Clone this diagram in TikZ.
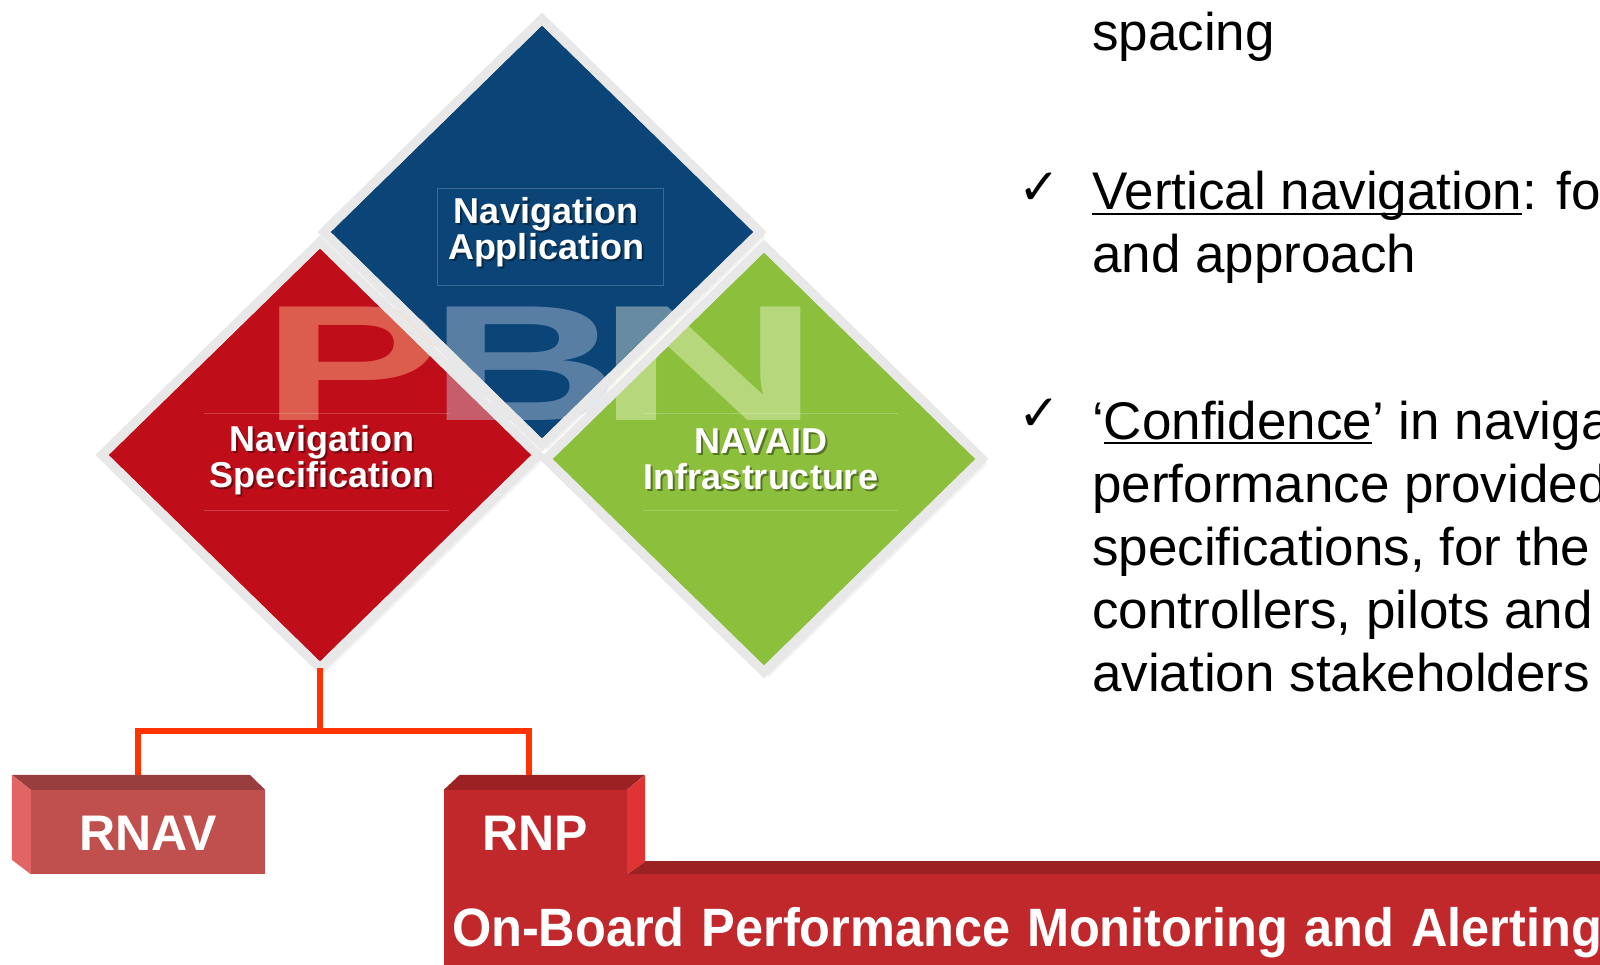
\documentclass[tikz,border=0pt]{standalone}
\usepackage{fontspec}
\setmainfont{Liberation Sans}
\newfontfamily\symbolsans{DejaVu Sans}
\usepackage{tikz}
\usetikzlibrary{positioning, shapes.geometric, shadows, calc}

\definecolor{appblue}{RGB}{11,69,119}
\definecolor{specred}{RGB}{192,13,26}
\definecolor{infragreen}{RGB}{140,192,60}
\definecolor{rimgray}{RGB}{232,232,232}
\definecolor{linkred}{RGB}{255,51,0}
\definecolor{rnavfront}{RGB}{192,80,78}
\definecolor{rnavtop}{RGB}{152,62,62}
\definecolor{rnavside}{RGB}{226,100,100}
\definecolor{rnpfront}{RGB}{192,40,44}
\definecolor{rnptop}{RGB}{155,33,35}
\definecolor{rnpside}{RGB}{224,52,52}
\definecolor{wmP}{RGB}{255,190,140}
\definecolor{wmB}{RGB}{205,215,230}
\definecolor{wmN}{RGB}{255,255,230}

\newsavebox\ulinebox
\newcommand\undl[1]{\sbox\ulinebox{#1}\rlap{\rule[-0.1em]{\wd\ulinebox}{0.05em}}\usebox\ulinebox}

\begin{document}
\begin{tikzpicture}[
  x=1pt, y=-1pt,
  tile/.style={diamond, draw=rimgray, line width=9pt, inner sep=0pt, outer sep=0pt, minimum width=436pt, minimum height=426pt, drop shadow={shadow xshift=5pt, shadow yshift=-5pt, opacity=0.1}},
  rim/.style={draw=rimgray, line width=9pt},
  tiletext/.style={text=white, align=center, inner sep=0pt, font=\fontsize{36}{36}\selectfont\bfseries},
  tileshade/.style={tiletext, text=black, text opacity=0.4},
  frameline/.style={white, opacity=0.2, line width=1pt},
  watermark/.style={inner sep=0pt, font=\fontsize{165}{165}\selectfont\bfseries},
  link/.style={draw=linkred, line width=6pt},
  boxlabel/.style={text=white, inner sep=0pt, text height=36pt, text depth=0pt, font=\fontsize{50}{50}\selectfont\bfseries},
  bodytext/.style={anchor=base west, inner sep=0pt, align=left, font=\fontsize{53}{63}\selectfont},
  tick/.style={anchor=base west, inner sep=0pt, font=\symbolsans\bfseries\fontsize{50}{50}\selectfont}
]
\clip (0,0) rectangle (1600,965);
\fill[white] (0,0) rectangle (1600,965);

\node[tile, fill=appblue] (app) at (542,232) {};
\node[tile, fill=specred] (spec) at (320,455) {};
\node[tile, fill=infragreen] (infra) at (764,459) {};

\node[watermark, text=wmP, text opacity=0.45] (wmp) at (352,364) {\scalebox{1.65}[1]{P}};
\node[watermark, text=wmB, text opacity=0.4] (wmb) at (525,364) {\scalebox{1.6}[1]{B}};
\node[watermark, text=wmN, text opacity=0.38] (wmn) at (709,364) {\scalebox{1.9}[1]{N}};

\foreach \t in {app,spec,infra}
  \draw[rim] (\t.north) -- (\t.east) -- (\t.south) -- (\t.west) -- cycle;

\draw[frameline] (437,189) rectangle (663,286);
\draw[frameline] (204,413) -- (449,413) (204,510) -- (449,510);
\draw[frameline] (643,413) -- (898,413) (643,510) -- (898,510);

\node[tileshade] (appshade) at ([xshift=6pt,yshift=-2pt]app.center) {Navigation\\Application};
\node[tiletext] (apptext) at ([xshift=4pt]app.center) {Navigation\\Application};
\node[tileshade] (specshade) at ([xshift=4pt,yshift=-7pt]spec.center) {Navigation\\Specification};
\node[tiletext] (spectext) at ([xshift=2pt,yshift=-5pt]spec.center) {Navigation\\Specification};
\node[tileshade] (infrashade) at ([xshift=-1pt,yshift=-2pt]infra.center) {NAVAID\\Infrastructure};
\node[tiletext] (infratext) at ([xshift=-3pt]infra.center) {NAVAID\\Infrastructure};

\node[boxlabel, fill=rnavfront, minimum width=234pt, minimum height=84pt] (rnav) at (148,832) {RNAV};
\fill[rnavtop] (rnav.north west) -- ++(-19,-15) -- ++(238,0) -- (rnav.north east) -- cycle;
\fill[rnavside] (rnav.north west) -- ++(-19,-15) -- ++(0,85) -- (rnav.south west) -- cycle;

\node[boxlabel, fill=rnpfront, minimum width=183pt, minimum height=84pt] (rnp) at (535.5,832) {RNP};
\node[fill=rnpfront, anchor=north west, inner xsep=8pt, inner ysep=0pt, text width=1150pt, align=left, minimum height=92pt, text height=52pt, text depth=0pt, text=white, font=\bfseries\fontsize{54}{54}\selectfont] (obpm) at (rnp.south west) {\scalebox{0.935}[1]{On-Board Performance Monitoring and Alerting}};
\fill[rnptop] (rnp.south east) -- ++(18,-13) -- ++(1000,0) -- (obpm.north east) -- cycle;
\fill[rnptop] (rnp.north west) -- ++(16,-15) -- ++(185,0) -- (rnp.north east) -- cycle;
\fill[rnpside] (rnp.north east) -- ++(18,-15) -- ++(0,87) -- (rnp.south east) -- cycle;

\coordinate (fork) at (spec.south |- 0,731);
\draw[link] (spec.south) -- (fork);
\draw[link] ([xshift=-10pt,yshift=15pt]rnav.north) |- (fork) -| ([xshift=-7pt,yshift=15pt]rnp.north);

\node[bodytext] (spacing) at (1092,51) {spacing};
\node[tick] (chk1) at (1018,205) {✓};
\node[bodytext] (vnav) at (1092,273) {\undl{Vertical navigation}: for\\and approach};
\node[tick] (chk2) at (1018,430) {✓};
\node[bodytext] (conf) at (1092,691) {`\undl{Confidence}' in navigation\\performance provided\\specifications, for the\\controllers, pilots and\\aviation stakeholders};
\end{tikzpicture}
\end{document}
